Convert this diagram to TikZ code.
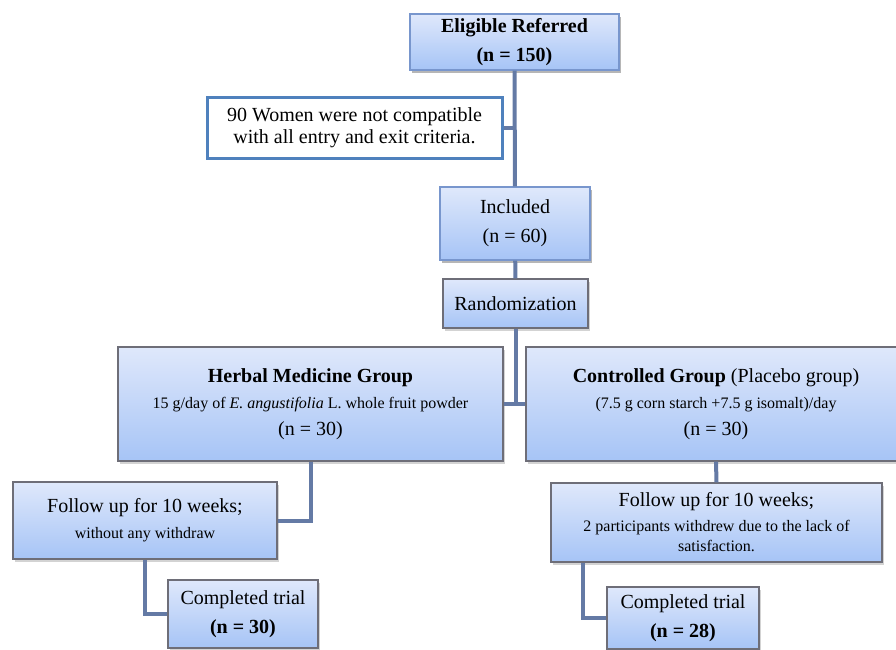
\documentclass[tikz,border=0pt]{standalone}
\usepackage{fontspec}
\setmainfont{Liberation Serif}
\usetikzlibrary{shadows}
\definecolor{boxtop}{RGB}{223,232,251}
\definecolor{boxbot}{RGB}{166,196,246}
\definecolor{boxline}{RGB}{120,150,205}
\definecolor{greyline}{RGB}{110,110,120}
\definecolor{linkcol}{RGB}{100,122,165}
\definecolor{exclline}{RGB}{79,129,189}
\newcommand{\bigtxt}{\fontsize{20}{29}\selectfont}
\newcommand{\smalltxt}{\fontsize{16}{20}\selectfont}
\tikzset{
  flowbox/.style={draw=#1,line width=1.2pt,top color=boxtop,bottom color=boxbot,
    drop shadow={shadow xshift=2pt,shadow yshift=-3pt,opacity=0.35},
    align=center,inner sep=0pt,font=\bigtxt},
  flowbox/.default=greyline,
  link/.style={draw=linkcol,line width=4pt}
}
\begin{document}
\begin{tikzpicture}[x=1pt,y=-1pt]
\useasboundingbox (0,0) rectangle (896,649);
		\begin{scope}[every node/.style={flowbox}]
			\node[flowbox=boxline,minimum width=209pt,minimum height=56pt] (elig) at (514.5,42) {\textbf{Eligible Referred}\\\textbf{(n = 150)}};
			\node[flowbox=boxline,minimum width=150pt,minimum height=73pt] (incl) at (515,223.5) {Included\\(n = 60)};
			\node[minimum width=145pt,minimum height=49pt] (rand) at (515.5,303.5) {Randomization};
			\node[minimum width=385pt,minimum height=114pt] (herbal) at (310.5,404) {\textbf{Herbal Medicine Group}\\[-3pt]{\smalltxt 15 g/day of \textit{E. angustifolia} L. whole fruit powder}\\[-2pt](n = 30)};
			\node[minimum width=380pt,minimum height=114pt] (ctrl) at (716,404) {\textbf{Controlled Group} (Placebo group)\\[-3pt]{\smalltxt (7.5 g corn starch +7.5 g isomalt)/day}\\[-2pt](n = 30)};
			\node[minimum width=264pt,minimum height=77pt] (followL) at (145,520.5) {Follow up for 10 weeks;\\[-3pt]{\smalltxt without any withdraw}};
			\node[minimum width=150pt,minimum height=68pt] (doneL) at (243,614) {Completed trial\\\textbf{(n = 30)}};
			\node[minimum width=331pt,minimum height=79pt] (followR) at (716.5,522.5) {Follow up for 10 weeks;\\[-4pt]{\smalltxt 2 participants withdrew due to the lack of}\\[-9pt]{\smalltxt satisfaction.}};
			\node[minimum width=152pt,minimum height=62pt] (doneR) at (683,618) {Completed trial\\\textbf{(n = 28)}};
		\end{scope}
\node[draw=exclline,line width=3pt,fill=white,align=center,inner sep=0pt,font={\fontsize{20}{22}\selectfont},
  minimum width=295pt,minimum height=61pt] (excl) at (354.5,127.5) {90 Women were not compatible\\with all entry and exit criteria.};

\begin{scope}[every path/.style={link}]
\path (elig) -- (incl);
\path (excl.east) -- (excl.east -| elig.south);
\path (incl) -- (rand);
\path (rand.south) -- (rand.south |- herbal.east);
\path (herbal.east) -- (ctrl.west);
\path (herbal.south) |- (followL.east);
\path (ctrl.south) -- (followR.north);
\path (followL.south) |- (doneL.west);
\path ([xshift=33pt]followR.south west) |- (doneR.west);
\end{scope}
	\end{tikzpicture}
\end{document}
